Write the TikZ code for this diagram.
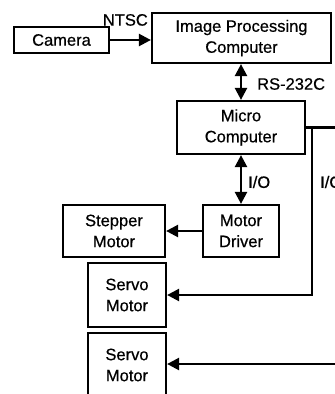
\documentclass[tikz,border=0pt]{standalone}
\usepackage{fontspec}
\setmainfont{Liberation Sans}[FakeBold=0.6]
\usetikzlibrary{arrows.meta}
\begin{document}
\begin{tikzpicture}[x=1pt,y=-1pt,
  blk/.style={draw,line width=2.2pt,inner sep=0pt,align=center,
    font=\fontsize{16.5}{21}\selectfont},
  lbl/.style={inner sep=0pt,font=\fontsize{16.5}{21}\selectfont},
  conn/.style={line width=2.4pt,-{Triangle[length=12pt,width=12pt]}},
  dconn/.style={line width=2.4pt,{Triangle[length=12pt,width=12pt]}-{Triangle[length=12pt,width=12pt]}},
  wire/.style={line width=2.4pt}]
\useasboundingbox (0,0) rectangle (335,394);
\clip (0,0) rectangle (335,394);
\node[blk,minimum width=95pt,minimum height=26pt] (cam) at (61.5,40) {Camera};
\node[blk,minimum width=179pt,minimum height=50pt] (ipc) at (241.5,38) {Image Processing\\Computer};
\node[blk,minimum width=128pt,minimum height=53pt] (mc) at (241,127.5) {Micro\\Computer};
\node[blk,minimum width=76pt,minimum height=52pt] (md) at (241,231) {Motor\\Driver};
\node[blk,minimum width=102pt,minimum height=52pt] (sm) at (114,231) {Stepper\\Motor};
\node[blk,minimum width=78pt,minimum height=64pt] (sv1) at (127,295) {Servo\\Motor};
\node[blk,minimum width=78pt,minimum height=64pt] (sv2) at (127,365) {Servo\\Motor};
\coordinate (r1) at (345,127.5);
\coordinate (j1) at (312,127.5);
\coordinate (r2) at (345,364);
\draw[conn] (cam.east) -- (cam.east -| ipc.west);
\draw[dconn] (mc.north |- ipc.south) -- (mc.north);
\draw[dconn] (mc.south) -- (md.north);
\draw[conn] (md.west) -- (sm.east);
\draw[wire] (mc.east) -- (r1);
\draw[conn] (j1) |- (sv1.east);
\draw[conn] (r2) -- (r2 -| sv2.east);
\node[lbl,anchor=south east] (ntsc) at (148,26) {NTSC};
\node[lbl,anchor=west] (rs) at (257,84) {RS-232C};
\node[lbl,anchor=west] (io1) at (248,182) {I/O};
\node[lbl,anchor=west] (io2) at (320,182) {I/O};
\end{tikzpicture}
\end{document}
